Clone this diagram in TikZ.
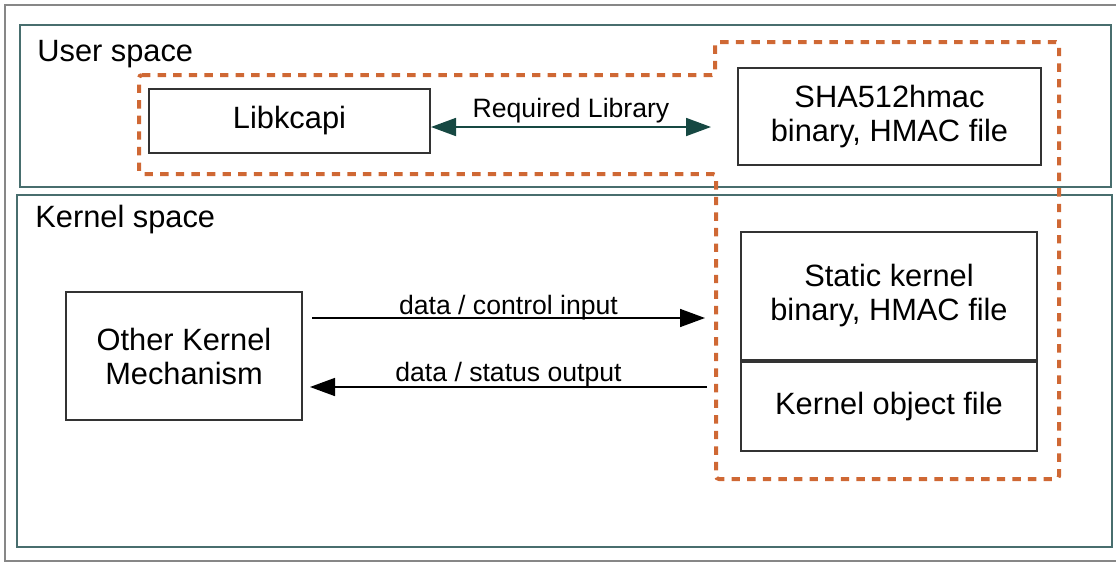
\documentclass[tikz,border=0pt]{standalone}
\usepackage{fontspec}
\setmainfont{Liberation Sans}
\usepackage{tikz}
\usetikzlibrary{arrows.meta}
\usetikzlibrary{positioning,calc}
\definecolor{myorange}{RGB}{207,104,52}
\definecolor{myteal}{RGB}{72,110,110}
\definecolor{mydarkteal}{RGB}{22,72,66}
\definecolor{mygray}{RGB}{135,135,135}

\begin{document}
\begin{tikzpicture}[x=0.5pt,y=-0.5pt,>={Triangle[length=12.5pt,width=9pt]},
	box/.style={draw=black!80,line width=1pt,align=center,inner sep=0pt,font=\fontsize{15.4}{17}\selectfont},
	lbl/.style={inner sep=0pt,anchor=base,font=\fontsize{13.3}{15}\selectfont},
	title/.style={inner sep=0pt,anchor=base west,font=\fontsize{15.4}{17}\selectfont},
	space/.style={draw=myteal,line width=1pt}]
			\useasboundingbox (0,0) rectangle (1116,563);
			\clip (0,0) rectangle (1116,563);
			% Draw frame and the two spaces
			\draw[mygray,line width=1pt] (5,5) rectangle (1125,561);
			\draw[space] (20,25) rectangle (1111,187);
			\draw[space] (17,195) rectangle (1112,547);
			\node[title] (user) at (37,61) {User space};
			\node[title] (kernel) at (35,227) {Kernel space};
			
			% Draw the boxes
			\node[box,minimum width=140.5pt,minimum height=32pt] (lib) at (289.5,121) {Libkcapi};
			\node[box,minimum width=151.5pt,minimum height=48.5pt] (sha) at (889.5,116.5) {SHA512hmac\\binary, HMAC file};
			\node[box,minimum width=148pt,minimum height=64pt] (static) at (889,296) {Static kernel\\binary, HMAC file};
			\node[box,minimum width=148pt,minimum height=44.5pt,below=0pt of static] (kobj) {Kernel object file};
			\node[box,minimum width=118pt,minimum height=64pt] (other) at (184,356) {Other Kernel\\Mechanism};
			
			% Draw the boundary
			\draw[myorange,line width=2pt,dash pattern=on 4.2pt off 3.6pt,rounded corners=1.5pt] (139,75) -- (715,75) -- (715,42) -- (1059,42) -- (1059,479) -- (716,479) -- (716,174) -- (139,174) -- cycle;
			
			% Draw the arrows
			\coordinate (reqR) at (711,127);
			\coordinate (inL) at (312,318);
			\coordinate (inR) at (705,318);
			\coordinate (outR) at (707,387);
			\coordinate (outL) at (310,387);
			\draw[<->,mydarkteal,line width=0.9pt] (lib.east |- reqR) -- node[lbl,yshift=5pt,text=black] {Required Library} (reqR);
			\draw[->,line width=0.8pt] (inL) -- node[lbl,yshift=2pt] {data / control input} (inR);
			\draw[->,line width=0.8pt] (outR) -- node[lbl,yshift=3pt] {data / status output} (outL);
		\end{tikzpicture}
\end{document}
